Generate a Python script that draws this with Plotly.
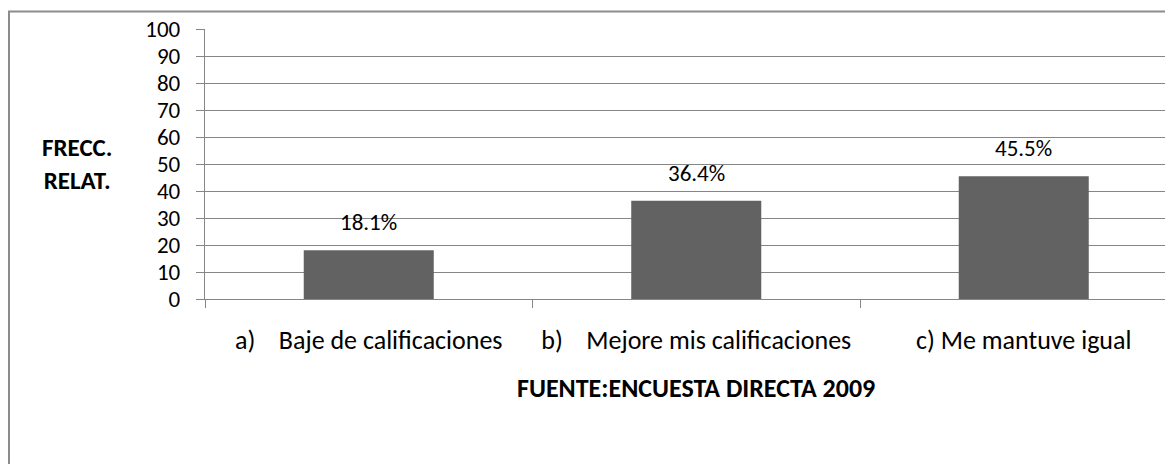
import plotly.graph_objects as go

categories = ["a)\u00a0\u00a0\u00a0\u00a0Baje de calificaciones",
              "b)\u00a0\u00a0\u00a0\u00a0Mejore mis calificaciones",
              "c) Me mantuve igual"]
values = [18.1, 36.4, 45.5]
value_labels = ["18.1%", "36.4%", "45.5%"]
y_ticks = list(range(0, 101, 10))

OFF = 8  # default page body margin
W, H = 1165, 456
L, T = 197, 21
B = H - (299 - OFF)
R = 0
pw = W - L - R
ph = H - T - B
FONT = "Calibri, Carlito, Lato, sans-serif"
GRID = "#868686"
CAT_W = 327.5

def px2paper_x(px):
    return (px - OFF - L) / pw

def py2paper_y(py):
    return (H - B - (py - OFF)) / ph

fig = go.Figure()
fig.add_trace(go.Bar(x=categories, y=values, marker=dict(color="#626262", line=dict(width=0)),
                     hoverinfo="skip"))

for c, v, t in zip(categories, values, value_labels):
    fig.add_annotation(x=c, y=v, text=t, showarrow=False, xanchor="center", yanchor="bottom",
                       yshift=12, font=dict(family=FONT, size=23, color="#000"))

fig.add_annotation(xref="paper", yref="paper", x=px2paper_x(77), y=py2paper_y(164),
                   xanchor="center", yanchor="middle",
                   text="<b>FRECC.</b><br><b>RELAT.</b>", showarrow=False, align="center",
                   font=dict(family=FONT, size=25, color="#000"))
fig.add_annotation(xref="paper", yref="paper", x=px2paper_x(696), y=py2paper_y(388),
                   xanchor="center", yanchor="middle",
                   text="<b>FUENTE:ENCUESTA DIRECTA 2009</b>", showarrow=False,
                   font=dict(family=FONT, size=26, color="#000"))

fig.add_shape(type="rect", xref="paper", yref="paper",
              x0=px2paper_x(9), x1=px2paper_x(1200), y0=py2paper_y(500), y1=py2paper_y(11.5),
              line=dict(color="#8c8c8c", width=2), fillcolor="rgba(0,0,0,0)", layer="below")

fig.update_layout(
    width=W, height=H,
    margin=dict(l=L, r=R, t=T, b=B, pad=0),
    paper_bgcolor="white", plot_bgcolor="white",
    bargap=0.603, showlegend=False,
    font=dict(family=FONT, size=23, color="#000"),
    xaxis=dict(type="category", range=[-0.5, -0.5 + pw / CAT_W],
               showline=True, linecolor=GRID, linewidth=1.3,
               ticks="outside", tickson="boundaries", ticklen=8, tickcolor=GRID, tickwidth=1.3,
               showgrid=False, ticklabelstandoff=18,
               tickfont=dict(family=FONT, size=26, color="#000")),
    yaxis=dict(range=[0, 100], tickvals=y_ticks, showgrid=True, gridcolor=GRID, gridwidth=1.3,
               showline=True, linecolor=GRID, linewidth=1.3, zeroline=False,
               ticks="outside", ticklen=8, tickcolor=GRID, tickwidth=1.3,
               ticklabelstandoff=11, tickfont=dict(family=FONT, size=23, color="#000")),
)

fig.write_html("out.html")
